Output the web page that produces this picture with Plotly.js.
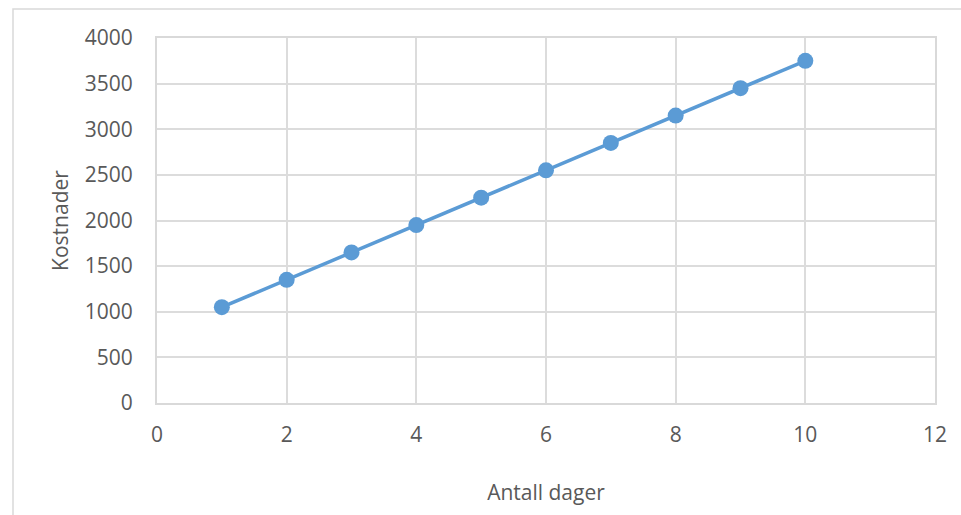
<!DOCTYPE html>
<html>
<head>
<meta charset="utf-8">
<script src="https://cdn.plot.ly/plotly-3.0.1.min.js"></script>
<style>
html,body{margin:0;padding:0;background:#fff;}
#chart{width:961px;height:515px;}
</style>
</head>
<body>
<div id="chart"></div>
<script>
const days = [1, 2, 3, 4, 5, 6, 7, 8, 9, 10];
const costs = [1050, 1350, 1650, 1950, 2250, 2550, 2850, 3150, 3450, 3750];
const xTitle = "Antall dager";
const yTitle = "Kostnader";

const L = 157, R = 26, T = 38, B = 112;
const W = 961, H = 515;
const pw = W - L - R, ph = H - T - B;
const font = "'Open Sans', sans-serif";

const trace = {
  x: days, y: costs, type: 'scatter', mode: 'lines+markers',
  line: {color: '#5b9bd5', width: 3.5},
  marker: {color: '#5b9bd5', size: 16},
  hoverinfo: 'skip'
};

const layout = {
  width: W, height: H,
  margin: {l: L, r: R, t: T, b: B},
  paper_bgcolor: '#fff', plot_bgcolor: '#fff',
  showlegend: false,
  font: {family: font, size: 21, color: '#595959'},
  xaxis: {
    range: [0, 12], dtick: 2, tick0: 0, zeroline: false,
    showgrid: true, gridcolor: '#dcdcdc', gridwidth: 2,
    showline: true, linecolor: '#d9d9d9', linewidth: 2, mirror: true,
    ticks: 'outside', ticklen: 12, tickcolor: 'rgba(0,0,0,0)',
    title: {text: xTitle, standoff: 38, font: {size: 21, color: '#595959'}}
  },
  yaxis: {
    range: [0, 4000], dtick: 500, zeroline: false,
    showgrid: true, gridcolor: '#dcdcdc', gridwidth: 2,
    showline: true, linecolor: '#d9d9d9', linewidth: 2, mirror: true,
    ticks: 'outside', ticklen: 18, tickcolor: 'rgba(0,0,0,0)',
    title: {text: yTitle, standoff: 10, font: {size: 21, color: '#595959'}}
  },
  shapes: [{
    type: 'rect', xref: 'paper', yref: 'paper', layer: 'below',
    x0: (13 - L) / pw, x1: (975 - L) / pw,
    y0: (T + ph - 530) / ph, y1: (T + ph - 9) / ph,
    line: {color: '#d9d9d9', width: 1.5}
  }]
};

Plotly.newPlot('chart', [trace], layout, {displayModeBar: false, staticPlot: true});
</script>
</body>
</html>
